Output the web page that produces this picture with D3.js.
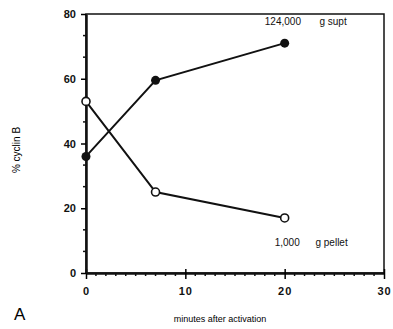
<!DOCTYPE html>
<html>
<head>
    <meta charset="utf-8">
    <script src="https://d3js.org/d3.v7.min.js"></script>
    <style>
        body { margin: 0; background: #fff; font-family: "Liberation Sans", Arial, sans-serif; }
        .tick-label { font-size: 11px; font-weight: bold; fill: #111; }
        .note { font-size: 10px; fill: #111; }
    </style>
</head>
<body>
    <svg id="chart" width="393" height="329"></svg>
    <script>
        // minutes after activation
        const minutes = [0, 7, 20];
        // % cyclin B, 124,000 g supernatant (filled)
        const supt = [36, 59.5, 71];
        // % cyclin B, 1,000 g pellet (open)
        const pellet = [53, 25, 17];
        const xTicks = [0, 10, 20, 30];
        const yTicks = [0, 20, 40, 60, 80];

        const margin = {top: 14, right: 9, bottom: 56, left: 86};
        const width = 393 - margin.left - margin.right;
        const height = 329 - margin.top - margin.bottom;

        const svg = d3.select('#chart');
        const g = svg.append('g')
            .attr('transform', `translate(${margin.left},${margin.top})`);

        const x = d3.scaleLinear().domain([0, 30]).range([0, width]);
        const y = d3.scaleLinear().domain([0, 80]).range([height, 0]);

        // frame
        g.append('rect')
            .attr('width', width).attr('height', height)
            .attr('fill', 'none').attr('stroke', '#111').attr('stroke-width', 1.5);

        // minor ticks
        const xMinor = d3.range(0, 31).filter(v => v % 10 !== 0);
        g.selectAll('.xminor').data(xMinor).enter().append('line')
            .attr('x1', d => x(d)).attr('x2', d => x(d))
            .attr('y1', height).attr('y2', height + 3)
            .attr('stroke', '#111').attr('stroke-width', 1.5);
        const yMinor = d3.range(0, 12).map(i => i * 20 / 3).filter((v, i) => i % 3 !== 0);
        g.selectAll('.yminor').data(yMinor).enter().append('line')
            .attr('x1', -3).attr('x2', 0)
            .attr('y1', d => y(d)).attr('y2', d => y(d))
            .attr('stroke', '#111').attr('stroke-width', 1.5);

        // axes
        const xAxis = g.append('g')
            .attr('transform', `translate(0,${height})`)
            .call(d3.axisBottom(x).tickValues(xTicks).tickSizeInner(6).tickSizeOuter(0).tickPadding(8));
        xAxis.selectAll('.tick line').attr('y1', -4).attr('stroke-width', 1.5);
        const yAxis = g.append('g')
            .call(d3.axisLeft(y).tickValues(yTicks).tickSizeInner(5).tickSizeOuter(0).tickPadding(5));
        yAxis.selectAll('.tick line').attr('stroke-width', 1.5);
        [xAxis, yAxis].forEach(a => {
            a.select('.domain').attr('stroke-width', 2.5).attr('stroke', '#111');
            a.selectAll('.tick text').attr('class', 'tick-label').attr('font-family', null).attr('font-size', null);
        });
        xAxis.selectAll('.tick text').attr('letter-spacing', '1px');

        // series
        const line = d3.line().x(d => x(d[0])).y(d => y(d[1]));
        const suptPts = minutes.map((m, i) => [m, supt[i]]);
        const pelletPts = minutes.map((m, i) => [m, pellet[i]]);

        [suptPts, pelletPts].forEach(pts => {
            g.append('path').datum(pts).attr('d', line)
                .attr('fill', 'none').attr('stroke', '#111').attr('stroke-width', 2);
        });
        g.selectAll('.filled').data(suptPts).enter().append('circle')
            .attr('cx', d => x(d[0])).attr('cy', d => y(d[1])).attr('r', 4.5)
            .attr('fill', '#111');
        g.selectAll('.open').data(pelletPts).enter().append('circle')
            .attr('cx', d => x(d[0])).attr('cy', d => y(d[1])).attr('r', 4)
            .attr('fill', '#fff').attr('stroke', '#111').attr('stroke-width', 1.6);

        // annotations
        g.append('text').attr('class', 'note')
            .attr('x', x(18)).attr('y', y(76.5)).text('124,000');
        g.append('text').attr('class', 'note')
            .attr('x', x(23.5)).attr('y', y(76.5)).text('g supt');
        g.append('text').attr('class', 'note')
            .attr('x', x(19)).attr('y', y(8.3)).text('1,000');
        g.append('text').attr('class', 'note')
            .attr('x', x(23.1)).attr('y', y(8.3)).text('g pellet');

        // axis titles
        svg.append('text')
            .attr('x', margin.left + width / 2 - 15).attr('y', 322)
            .attr('text-anchor', 'middle')
            .style('font-size', '9px')
            .text('minutes after activation');
        svg.append('text')
            .attr('transform', `translate(20,150) rotate(-90)`)
            .attr('text-anchor', 'middle')
            .style('font-size', '10px')
            .text('% cyclin B');
        svg.append('text')
            .attr('x', 14).attr('y', 320)
            .style('font-size', '17px')
            .text('A');
    </script>
</body>
</html>
